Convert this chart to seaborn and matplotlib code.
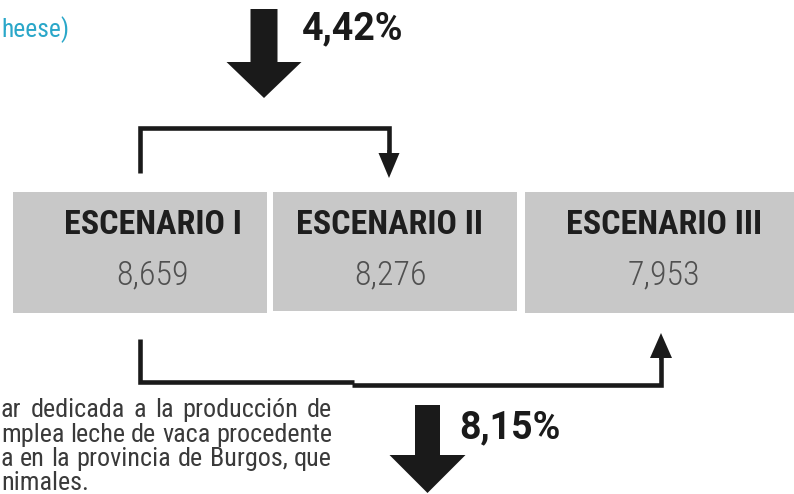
import matplotlib
matplotlib.use("Agg")
import matplotlib.pyplot as plt
import seaborn as sns
from matplotlib import font_manager

# --- datos del esquema ---
escenarios = ['ESCENARIO I', 'ESCENARIO II', 'ESCENARIO III']
huella = [8.659, 8.276, 7.953]
reducciones = [4.42, 8.15]  # I -> II, I -> III

texto_lineas = [
    'ar dedicada a la producción de',
    'mplea leche de vaca procedente',
    'a en la provincia de Burgos, que',
    'nimales.',
]

sns.set_theme(style="white")

# buscar una letra estrecha (el original usa una DIN condensada)
nombres = {f.name for f in font_manager.fontManager.ttflist}
estrecha = None
for cand in ['Roboto Condensed', 'Liberation Sans Narrow', 'Open Sans Condensed',
             'Noto Sans Condensed', 'DejaVu Sans Condensed', 'Arial Narrow']:
    if cand in nombres:
        estrecha = cand
        break
stretch = 'normal'
if estrecha is None:
    cond = [f for f in font_manager.fontManager.ttflist
            if f.name == 'DejaVu Sans' and f.stretch in ('condensed', 'semi-condensed')]
    if cond:
        estrecha, stretch = 'DejaVu Sans', 'condensed'
    else:
        estrecha = 'Roboto' if 'Roboto' in nombres else 'DejaVu Sans'
normal = 'Roboto' if 'Roboto' in nombres else 'DejaVu Sans'
plt.rcParams['font.family'] = [estrecha, 'DejaVu Sans']
plt.rcParams['font.stretch'] = stretch

fig = plt.figure(figsize=(7.94, 4.94), dpi=100)
ax = fig.add_axes([0, 0, 1, 1])
ax.set_xlim(0, 794)
ax.set_ylim(494, 0)
ax.axis('off')
renderer = fig.canvas.get_renderer()


def coma(v, dec):
    return f'{v:.{dec}f}'.replace('.', ',')


def ancho(t):
    return t.get_window_extent(renderer).width


def texto(x, y, s, an, tam, **kw):
    # reduce el tamaño si el texto sale más ancho que en el original
    t = ax.text(x, y, s, fontsize=tam, **kw)
    w = ancho(t)
    if w > an:
        t.set_fontsize(tam * an / w)
    return t


# cajas grises de los escenarios
izq = [13, 273, 525]
der = [267, 517, 794]
alto = [121, 119, 121]
centros = [153, 390, 664]
anchos_nombre = [183, 194, 200]
ax.bar(izq, alto, width=[d - i for i, d in zip(izq, der)], bottom=192,
       align='edge', color='#c8c8c8', linewidth=0)
for cx, nombre, v, an in zip(centros, escenarios, huella, anchos_nombre):
    texto(cx, 225, nombre, an, 24.5, ha='center', va='center',
          fontweight='bold', color='#1e1e1e')
    texto(cx, 275, coma(v, 3), 80, 24.5, ha='center', va='center',
          fontweight='light', color='#505050')

negro = '#1a1a1a'

# flecha grande superior
ax.arrow(264, 9, 0, 89, width=27, head_width=75, head_length=36,
         length_includes_head=True, color=negro, linewidth=0)
texto(302, 29, coma(reducciones[0], 2) + '%', 102, 27, ha='left', va='center',
      fontweight='bold', color=negro, family=[normal, 'DejaVu Sans'])

# corchete superior I -> II
ax.plot([140, 140, 389, 389], [173, 128, 128, 155], color=negro, lw=3.3,
        solid_joinstyle='miter', solid_capstyle='butt')
ax.arrow(389, 150, 0, 28, width=3.3, head_width=21, head_length=25,
         length_includes_head=True, color=negro, linewidth=0)

# corchete inferior I -> III
ax.plot([140, 140, 354], [339, 382, 382], color=negro, lw=3.3,
        solid_joinstyle='miter', solid_capstyle='butt')
ax.plot([352, 661, 661], [385, 385, 355], color=negro, lw=3.3,
        solid_joinstyle='miter', solid_capstyle='butt')
ax.arrow(661, 360, 0, -27, width=3.3, head_width=22, head_length=25,
         length_includes_head=True, color=negro, linewidth=0)

# flecha grande inferior
ax.arrow(427.5, 405, 0, 88, width=25, head_width=76, head_length=38,
         length_includes_head=True, color=negro, linewidth=0)
texto(459, 428, coma(reducciones[1], 2) + '%', 102, 27, ha='left', va='center',
      fontweight='bold', color=negro, family=[normal, 'DejaVu Sans'])

# textos recortados del documento
texto(1, 30, 'heese)', 68, 19, ha='left', va='center', color='#2aa7c9')

# párrafo justificado (recortado por la izquierda)
borde = 332
tam_par = 30
for linea in texto_lineas[1:3]:
    t = ax.text(0, 0, linea, fontsize=17)
    tam_par = min(tam_par, 17 * borde / ancho(t))
    t.remove()
base = [417, 442, 466, 490]
for k, linea in enumerate(texto_lineas):
    palabras = linea.split(' ')
    if k == len(texto_lineas) - 1:
        ax.text(1, base[k], linea, fontsize=tam_par, va='baseline', color='#3a3a3a')
        continue
    ts = [ax.text(0, base[k], p, fontsize=tam_par, va='baseline', color='#3a3a3a')
          for p in palabras]
    ws = [ancho(t) for t in ts]
    hueco = (borde - 1 - sum(ws)) / (len(ts) - 1)
    x = 1
    for t, w in zip(ts, ws):
        t.set_x(x)
        x += w + hueco

fig.savefig('out.png', dpi=100)
